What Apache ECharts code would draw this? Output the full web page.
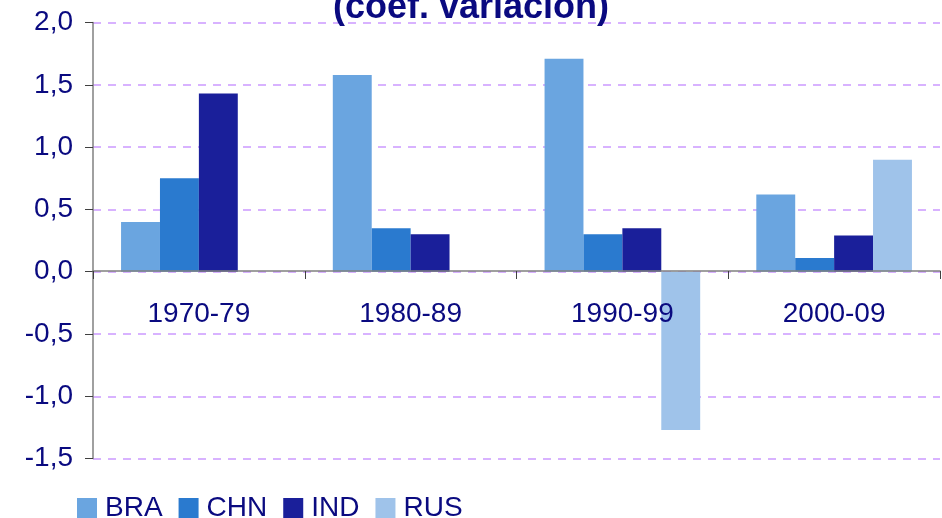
<!DOCTYPE html>
<html>
<head>
<meta charset="utf-8">
<script src="https://cdn.jsdelivr.net/npm/echarts@6/dist/echarts.min.js"></script>
<style>
  html, body { margin: 0; padding: 0; background: #fff; }
  #chart { width: 942px; height: 518px; }
</style>
</head>
<body>
<div id="chart"></div>
<script>
const categories = ['1970-79', '1980-89', '1990-99', '2000-09']
const bra = [0.40, 1.58, 1.71, 0.62]
const chn = [0.75, 0.35, 0.30, 0.11]
const ind = [1.43, 0.30, 0.35, 0.29]
const rus = [null, null, -1.27, 0.90]

const navy = '#0a0a80'
const font = 'Liberation Sans, Arial, sans-serif'

function bar (name, data, color) {
  return {
    name: name,
    type: 'bar',
    data: data,
    barGap: '0%',
    barCategoryGap: '26.5%',
    itemStyle: { color: color },
    emphasis: { disabled: true }
  }
}

const chart = echarts.init(document.getElementById('chart'))
chart.setOption({
  animation: false,
  title: {
    text: '(coef. variación)',
    left: 328,
    top: -15,
    textStyle: { color: navy, fontFamily: font, fontWeight: 'bold', fontSize: 36 }
  },
  grid: { left: 93, right: 2, top: 22.6, bottom: 59.4 },
  legend: {
    left: 72,
    top: 489,
    itemWidth: 20,
    itemHeight: 20,
    itemGap: 16,
    icon: 'rect',
    textStyle: { color: navy, fontFamily: font, fontSize: 28, padding: [0, 0, 0, 3] },
    data: ['BRA', 'CHN', 'IND', 'RUS']
  },
  xAxis: {
    type: 'category',
    data: categories,
    position: 'bottom',
    // the zero line sits 1.5 units (of 3.5) above the bottom of the grid
    offset: -187.6,
    z: 5,
    axisLine: { onZero: false, lineStyle: { color: '#808080', width: 1.5 } },
    axisTick: { show: true, length: 8, lineStyle: { color: '#404040' } },
    axisLabel: { color: navy, fontFamily: font, fontSize: 28, margin: 29 },
    splitLine: { show: false }
  },
  yAxis: {
    type: 'value',
    min: -1.5,
    max: 2,
    interval: 0.5,
    axisLine: { show: true, lineStyle: { color: '#808080', width: 1.5 } },
    axisTick: { show: true, length: 8, lineStyle: { color: '#404040' } },
    axisLabel: {
      color: navy,
      fontFamily: font,
      fontSize: 28,
      margin: 20,
      formatter: v => v.toFixed(1).replace('.', ',')
    },
    splitLine: { show: true, lineStyle: { color: '#cc99ff', type: [8, 7], width: 1.5 } }
  },
  series: [
    bar('BRA', bra, '#6aa5e0'),
    bar('CHN', chn, '#2a7acf'),
    bar('IND', ind, '#1a1f9a'),
    bar('RUS', rus, '#9fc3ea')
  ]
})
</script>
</body>
</html>
